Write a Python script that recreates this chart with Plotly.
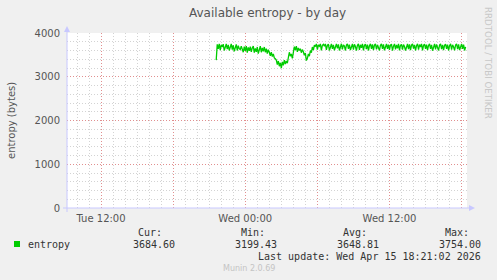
import pandas as pd
import plotly.graph_objects as go

# ---------------- data ----------------
start_time = "2026-04-14 21:35"
entropy = [
    3380, 3740, 3640, 3750, 3610, 3730, 3680, 3745, 3600, 3720, 3750, 3630,
    3730, 3600, 3710, 3750, 3620, 3720, 3580, 3700, 3740, 3600, 3710, 3640,
    3620, 3700, 3610, 3560, 3690, 3590, 3700, 3550, 3670, 3590, 3690, 3570,
    3660, 3700, 3550, 3650, 3570, 3680, 3530, 3640, 3700, 3560, 3660, 3580,
    3680, 3560, 3640, 3530, 3620, 3560, 3480, 3560, 3460, 3520, 3430, 3410,
    3380, 3280, 3360, 3240, 3320, 3199, 3340, 3260, 3380, 3290, 3360, 3310,
    3450, 3560, 3470, 3520, 3420, 3600, 3690, 3610, 3700, 3570, 3660, 3600,
    3640, 3550, 3620, 3570, 3490, 3540, 3370, 3420, 3520, 3470, 3600, 3550,
    3680, 3610, 3720, 3690, 3750, 3620, 3730, 3700, 3750, 3600, 3720, 3740,
    3700, 3750, 3615, 3720, 3745, 3600, 3710, 3750, 3640, 3730, 3605, 3720,
    3750, 3650, 3740, 3600, 3720, 3754, 3625, 3730, 3700, 3600, 3725, 3750,
    3640, 3735, 3610, 3710, 3750, 3620, 3740, 3690, 3595, 3720, 3750, 3615,
    3730, 3660, 3750, 3605, 3720, 3745, 3630, 3735, 3600, 3710, 3750, 3640,
    3740, 3610, 3725, 3750, 3625, 3730, 3680, 3600, 3720, 3750, 3635, 3740,
    3605, 3715, 3750, 3640, 3735, 3615, 3725, 3745, 3595, 3700, 3750, 3625,
    3730, 3650, 3750, 3600, 3720, 3740, 3620, 3735, 3690, 3600, 3715, 3750,
    3630, 3740, 3610, 3725, 3750, 3645, 3730, 3600, 3710, 3750, 3620, 3735,
    3680, 3750, 3605, 3720, 3745, 3635, 3735, 3610, 3715, 3750, 3640, 3730,
    3595, 3710, 3750, 3625, 3740, 3670, 3600, 3725, 3750, 3630, 3730, 3610,
    3720, 3745, 3640, 3735, 3600, 3710, 3750, 3620, 3730, 3680, 3605, 3725,
    3750, 3630, 3740, 3610, 3720, 3750, 3640, 3735, 3600, 3684.6,
]
x_range = ["2026-04-14 09:10", "2026-04-15 18:27"]
x_tickvals = ["2026-04-14 12:00", "2026-04-14 18:00", "2026-04-15 00:00",
              "2026-04-15 06:00", "2026-04-15 12:00", "2026-04-15 18:00"]
x_ticktext = ["Tue 12:00", "", "Wed 00:00", "", "Wed 12:00", ""]
y_tickvals = [0, 1000, 2000, 3000, 4000]
y_ticktext = ["0", "1000", "2000", "3000", "4000"]
stat_headers = ["Cur:", "Min:", "Avg:", "Max:"]
stat_values = ["3684.60", "3199.43", "3648.81", "3754.00"]
series_name = "entropy"
last_update = "Last update: Wed Apr 15 18:21:02 2026"
title_text = "Available entropy - by day"
y_title = "entropy (bytes)"
side_text = "RRDTOOL / TOBI OETIKER"
footer = "Munin 2.0.69"

times = pd.date_range(start_time, periods=len(entropy), freq="5min")

# ---------------- layout geometry ----------------
W, H = 497, 280
L, R, T, B = 67, 30, 33, 72
PW, PH = W - L - R, H - T - B


def px(x):
    return (x - L) / PW


def py(y):
    return (H - B - y) / PH


GREEN = "#00cc00"
AXIS = "#c8c8ff"
MAJ = "rgba(230,120,120,0.75)"
MIN = "rgba(200,200,200,0.8)"

fig = go.Figure()
fig.add_trace(go.Scatter(x=times, y=entropy, mode="lines",
                         line=dict(color=GREEN, width=1.3),
                         showlegend=False, hoverinfo="skip"))

annotations = [
    dict(text=title_text, x=0.5, xref="paper", xanchor="center",
         y=py(13), yref="paper", yanchor="middle", showarrow=False,
         font=dict(family="DejaVu Sans", size=12, color="#555555")),
    dict(text=y_title, x=px(11), xref="paper", xanchor="center",
         y=py(120), yref="paper", yanchor="middle", textangle=-90,
         showarrow=False,
         font=dict(family="DejaVu Sans", size=10, color="#555555")),
    dict(text=side_text, x=px(488), xref="paper", xanchor="center",
         y=py(5), yref="paper", yanchor="top", textangle=90,
         showarrow=False,
         font=dict(family="DejaVu Sans", size=8.7, color="#c8c8c8")),
    dict(text=series_name, x=px(26), xref="paper", xanchor="left",
         y=py(244), yref="paper", yanchor="middle", showarrow=False,
         font=dict(family="DejaVu Sans Mono", size=10, color="#333333")),
    dict(text=last_update, x=px(483), xref="paper", xanchor="right",
         y=py(256.5), yref="paper", yanchor="middle", showarrow=False,
         font=dict(family="DejaVu Sans Mono", size=10, color="#333333")),
    dict(text=footer, x=px(249), xref="paper", xanchor="center",
         y=py(268.5), yref="paper", yanchor="middle", showarrow=False,
         font=dict(family="DejaVu Sans", size=8, color="#c4c4c4")),
]
header_right = [164, 267, 369, 471]
value_right = [177, 279, 381, 483]
for h, v, hx, vx in zip(stat_headers, stat_values, header_right, value_right):
    annotations.append(dict(text=h, x=px(hx), xref="paper", xanchor="right",
                            y=py(232.5), yref="paper", yanchor="middle",
                            showarrow=False,
                            font=dict(family="DejaVu Sans Mono", size=10,
                                      color="#333333")))
    annotations.append(dict(text=v, x=px(vx), xref="paper", xanchor="right",
                            y=py(244.5), yref="paper", yanchor="middle",
                            showarrow=False,
                            font=dict(family="DejaVu Sans Mono", size=10,
                                      color="#333333")))

shapes = [
    # legend swatch
    dict(type="rect", xref="paper", yref="paper", x0=px(14), x1=px(20),
         y0=py(241), y1=py(247), fillcolor=GREEN, line=dict(width=0)),
    # y axis line + arrow
    dict(type="line", xref="paper", yref="paper", x0=px(67), x1=px(67),
         y0=py(212), y1=py(30), line=dict(color=AXIS, width=1)),
    dict(type="path", xref="paper", yref="paper",
         path=f"M {px(64)},{py(32)} L {px(70)},{py(32)} L {px(67)},{py(26)} Z",
         fillcolor=AXIS, line=dict(width=0)),
    # x axis line + arrow
    dict(type="line", xref="paper", yref="paper", x0=px(63), x1=px(470),
         y0=py(208), y1=py(208), line=dict(color=AXIS, width=1)),
    dict(type="path", xref="paper", yref="paper",
         path=f"M {px(469)},{py(205)} L {px(469)},{py(211)} L {px(475)},{py(208)} Z",
         fillcolor=AXIS, line=dict(width=0)),
]

fig.update_layout(
    width=W, height=H,
    margin=dict(l=L, r=R, t=T, b=B, pad=0),
    paper_bgcolor="#f0f0f0", plot_bgcolor="#ffffff",
    annotations=annotations, shapes=shapes,
    xaxis=dict(
        type="date", range=x_range, tickmode="array",
        tickvals=x_tickvals, ticktext=x_ticktext,
        showgrid=True, gridcolor=MAJ, griddash="1px,2px", gridwidth=1,
        zeroline=False, showline=False, ticks="", ticklabelstandoff=3,
        tickfont=dict(family="DejaVu Sans", size=10, color="#555555"),
        minor=dict(dtick=3600000, tick0="2026-04-14 00:00", showgrid=True,
                   gridcolor=MIN, griddash="1px,2px", gridwidth=1),
        fixedrange=True,
    ),
    yaxis=dict(
        range=[0, 4000], tickmode="array", tickvals=y_tickvals,
        ticktext=y_ticktext,
        showgrid=True, gridcolor=MAJ, griddash="1px,2px", gridwidth=1,
        zeroline=False, showline=False, ticks="", ticklabelstandoff=6,
        tickfont=dict(family="DejaVu Sans", size=10, color="#555555"),
        minor=dict(dtick=200, tick0=0, showgrid=True,
                   gridcolor=MIN, griddash="1px,2px", gridwidth=1),
        fixedrange=True,
    ),
)

fig.write_html("out.html", config={"displayModeBar": False})
